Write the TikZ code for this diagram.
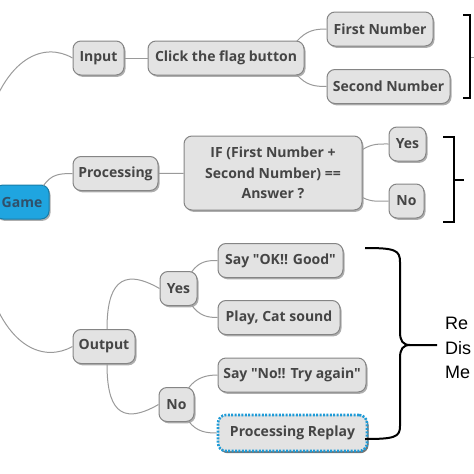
\documentclass[tikz,border=0pt]{standalone}
\usepackage{fontspec}
\setmainfont{Open Sans}[Ligatures=TeXOff]
\newfontfamily\arialf{Liberation Sans}
\usetikzlibrary{shadows,calc}
\definecolor{nodefill}{HTML}{E3E3E3}
\definecolor{nodeline}{HTML}{858585}
\definecolor{nodetext}{HTML}{454545}
\definecolor{linkc}{HTML}{9A9A9A}
\definecolor{gameblue}{HTML}{1FA5E0}
\definecolor{gametext}{HTML}{30506A}
\definecolor{dotblue}{HTML}{1E9BD7}
\begin{document}
\begin{tikzpicture}[x=1pt,y=-1pt,
  mm/.style={draw=nodeline, fill=nodefill, rounded corners=8pt, line width=1pt,
    text=nodetext, font=\fontsize{14}{16}\selectfont\bfseries,
    minimum height=34pt, inner sep=0pt,
    drop shadow={shadow xshift=1.5pt, shadow yshift=-1.8pt, fill=black!45, opacity=0.7}},
  link/.style={draw=linkc, line width=1pt},
  brk/.style={draw=black, line width=2pt},
]
\useasboundingbox (0,0) rectangle (474,474);
\clip (0,0) rectangle (474,474);

% nodes
\node[mm, fill=gameblue, draw=gameblue!75!black, text=gametext, minimum width=54pt] (game) at (22,202) {Game};
\node[mm, minimum width=51pt] (input) at (98.5,58) {Input};
\node[mm, minimum width=156pt] (click) at (226,58) {Click the flag button};
\node[mm, minimum width=106pt] (first) at (380,29) {First Number};
\node[mm, minimum width=123pt] (second) at (388.5,86.5) {Second Number};
\node[mm, minimum width=85pt] (proc) at (115.5,173.5) {Processing};
\node[mm, minimum width=178pt, minimum height=74pt, align=center,
  font=\fontsize{14}{20.5}\selectfont\bfseries] (if) at (273,173)
  {IF (First Number +\\Second Number) ==\\Answer ?};
\node[mm, minimum width=37pt] (yes1) at (407.5,144) {Yes};
\node[mm, minimum width=35pt] (no1) at (406.5,201) {No};
\node[mm, minimum width=62pt] (output) at (104,346.5) {Output};
\node[mm, minimum width=37pt] (yes2) at (178.5,288.5) {Yes};
\node[mm, minimum width=35pt] (no2) at (176.5,404.5) {No};
\node[mm, minimum width=125pt] (sayok) at (280.5,260.5) {Say "OK!! Good"};
\node[mm, minimum width=122pt] (play) at (279,317.5) {Play, Cat sound};
\node[mm, minimum width=148pt] (sayno) at (292,375) {Say "No!! Try again"};
\node[mm, minimum width=149pt, minimum height=36pt, draw=dotblue, line width=2.6pt,
  dash pattern=on 2pt off 1.4pt,
  drop shadow={shadow xshift=1.5pt, shadow yshift=-2.2pt, fill=black!60, opacity=0.8}] (replay) at (292.5,433) {Processing Replay};

% free ends
\coordinate (gin) at (-15,130);
\coordinate (gout) at (-15,275);

% links
\draw[link] (gin) .. controls (5,55) and (45,42) .. (input.west);
\draw[link] (gout) .. controls (5,350) and (45,362) .. (output.west);
\draw[link] (input) -- (click);
\draw[link] ($(click.north east)+(-8,1)$) .. controls ($(click.north east)+(2,-10)$) and ($(first.west)+(-12,0)$) .. (first.west);
\draw[link] ($(click.south east)+(-8,-1)$) .. controls ($(click.south east)+(2,10)$) and ($(second.west)+(-12,0)$) .. (second.west);
\draw[link] ($(game.north east)+(-6,1)$) .. controls ($(game.north east)+(2,-10)$) and ($(proc.west)+(-14,0)$) .. (proc.west);
\draw[link] (proc) -- (if);
\draw[link] ($(if.north east)+(0,14)$) .. controls ($(if.north east)+(10,8)$) and ($(yes1.west)+(-10,0)$) .. (yes1.west);
\draw[link] ($(if.south east)+(0,-13)$) .. controls ($(if.south east)+(10,-8)$) and ($(no1.west)+(-10,0)$) .. (no1.west);
\draw[link] ($(output.north)+(3,0)$) .. controls ($(output.north)+(3,-42)$) and ($(yes2.west)+(-40,-23)$) .. (yes2.west);
\draw[link] ($(output.south)+(3,0)$) .. controls ($(output.south)+(3,42)$) and ($(no2.west)+(-40,23)$) .. (no2.west);
\draw[link] ($(yes2.north east)+(-6,1)$) .. controls ($(yes2.north east)+(2,-10)$) and ($(sayok.west)+(-10,0)$) .. (sayok.west);
\draw[link] ($(yes2.south east)+(-6,-1)$) .. controls ($(yes2.south east)+(2,10)$) and ($(play.west)+(-10,0)$) .. (play.west);
\draw[link] ($(no2.north east)+(-6,1)$) .. controls ($(no2.north east)+(2,-10)$) and ($(sayno.west)+(-10,0)$) .. (sayno.west);
\draw[link] ($(no2.south east)+(-6,-1)$) .. controls ($(no2.south east)+(2,10)$) and ($(replay.west)+(-10,0)$) .. (replay.west);

% brackets
\draw[brk] (463,15) -- (470,15) -- (470,98) -- (463,98);
\draw[draw=linkc, line width=1pt] (471,57) -- (474,57);
\draw[brk] (443,137) -- (454,137) -- (454,222) -- (443,222);
\draw[brk] (454,180) -- (464,180);
\draw[brk] (365,248) .. controls (395,248) and (400,250) .. (400,262) -- (400,332)
  .. controls (400,341) and (403,345) .. (410,345) -- (437,345);
\draw[brk] (410,345) .. controls (403,345) and (400,349) .. (400,358) -- (400,426)
  .. controls (400,437) and (395,439) .. (365,439);

% cut-off text
\node[font=\arialf\fontsize{18}{24.5}\selectfont, anchor=north west, align=left, inner sep=0pt] (txt) at (445,317) {Re\\Dis\\Me};
\end{tikzpicture}
\end{document}
